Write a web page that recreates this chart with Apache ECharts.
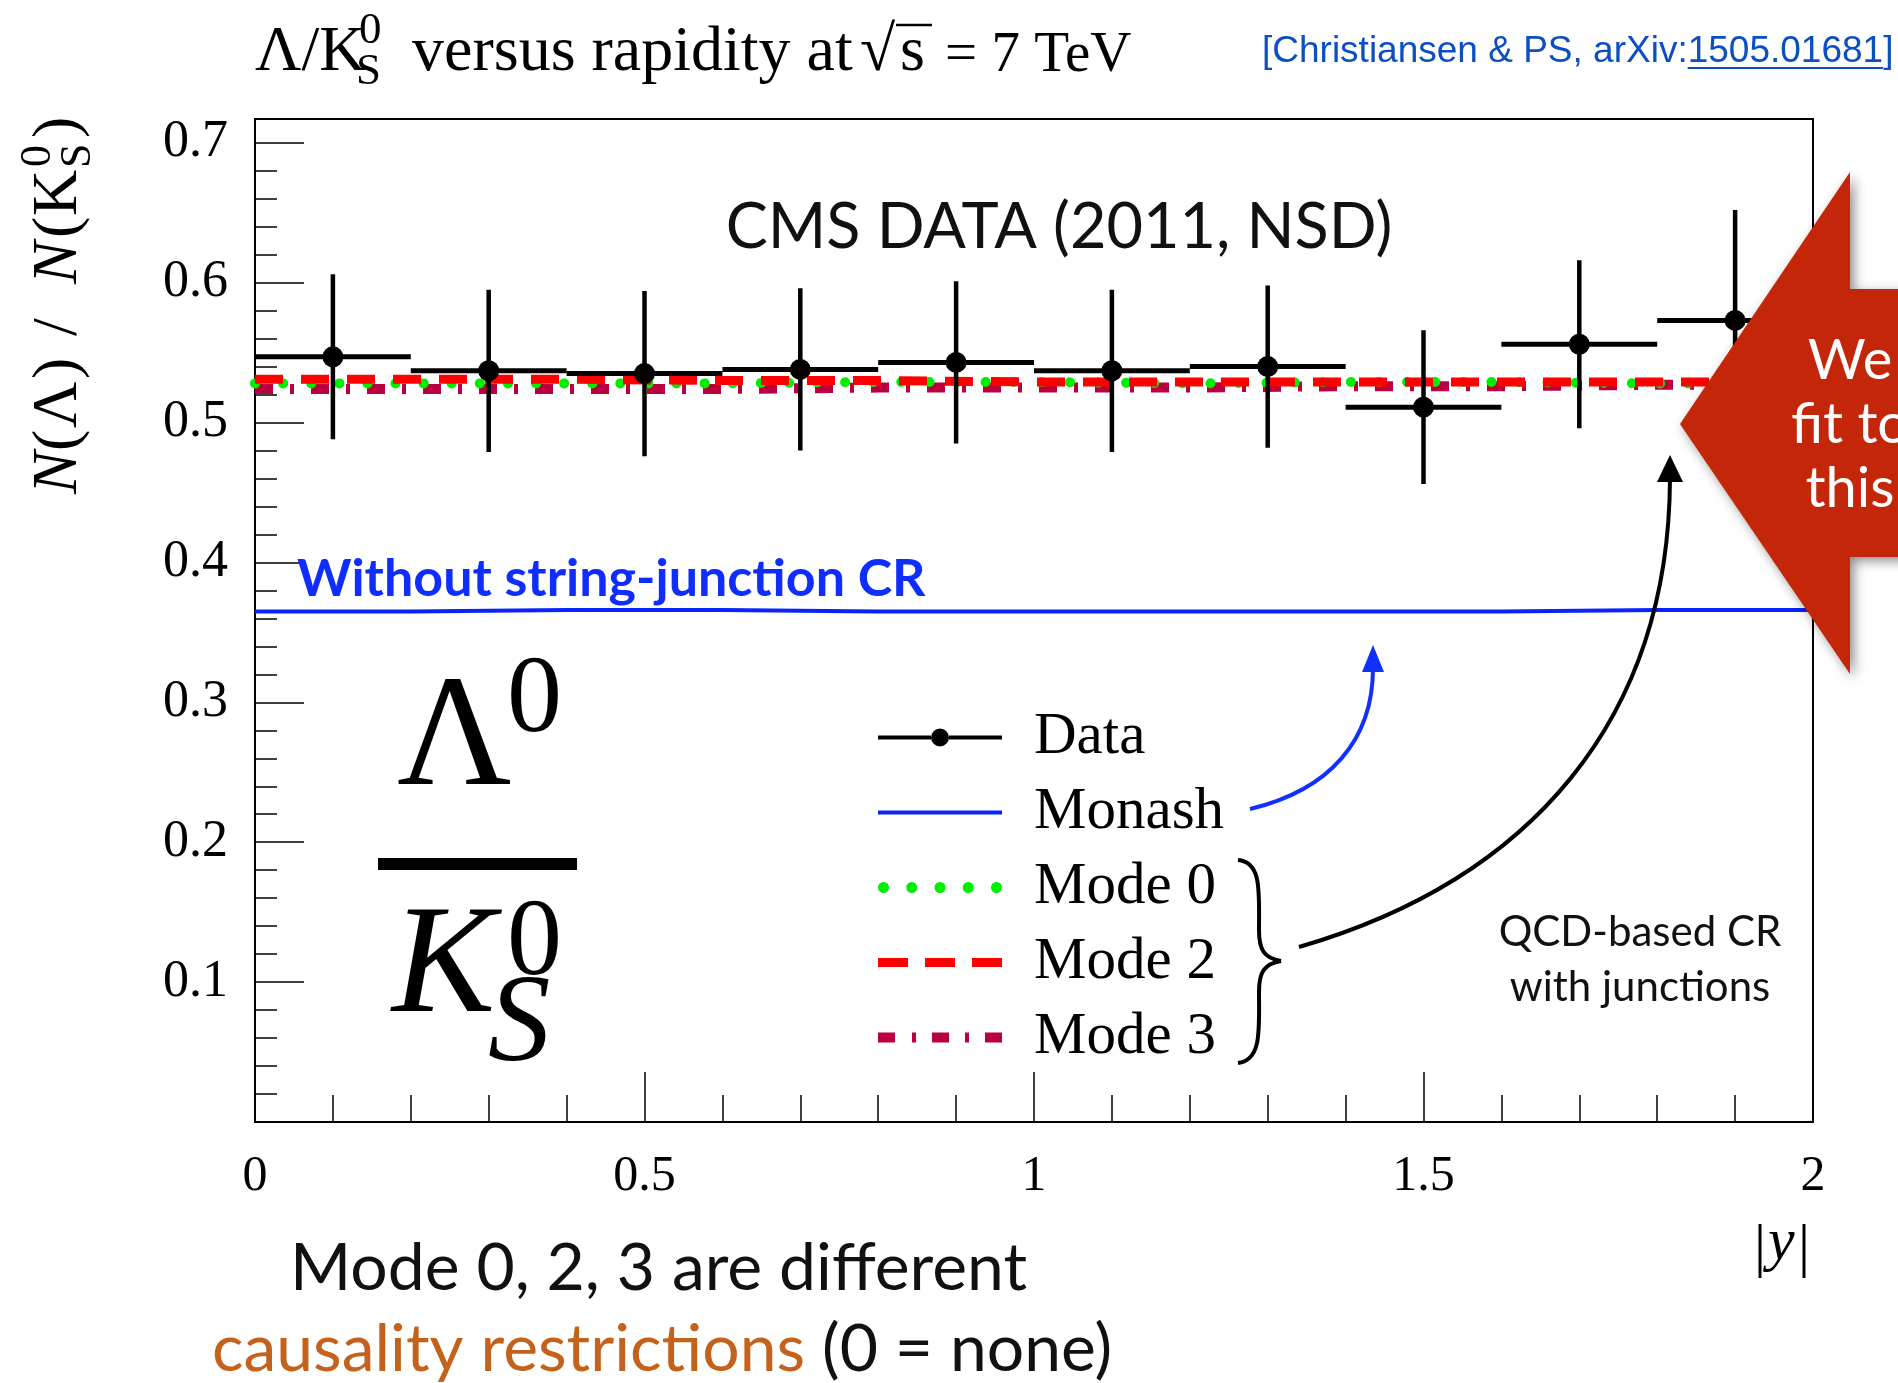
<!DOCTYPE html>
<html><head><meta charset="utf-8">
<script src="https://cdn.jsdelivr.net/npm/echarts@6/dist/echarts.min.js"></script>
<style>html,body{margin:0;padding:0;background:#fff}#c{width:1898px;height:1383px}</style>
</head><body><div id="c"></div>
<script>
// ---------------- data ----------------
const binEdges   = [0, 0.2, 0.4, 0.6, 0.8, 1.0, 1.2, 1.4, 1.6, 1.8, 2.0];
const dataValues = [0.547, 0.537, 0.535, 0.538, 0.543, 0.537, 0.540, 0.511, 0.556, 0.573];
const dataErrors = [0.059, 0.058, 0.059, 0.058, 0.058, 0.058, 0.058, 0.055, 0.060, 0.079];
const monash = [0.365, 0.366, 0.366, 0.365, 0.365, 0.365, 0.365, 0.365, 0.366, 0.366];
const mode0  = [0.528, 0.528, 0.528, 0.529, 0.529, 0.528, 0.529, 0.529, 0.528, 0.528];
const mode2  = [0.531, 0.531, 0.530, 0.530, 0.529, 0.529, 0.529, 0.529, 0.529, 0.529];
const mode3  = [0.524, 0.524, 0.524, 0.525, 0.525, 0.525, 0.526, 0.526, 0.527, 0.527];
const xTickValues = [0, 0.5, 1, 1.5, 2];
const xTickLabels = ['0', '0.5', '1', '1.5', '2'];
const yTickValues = [0.1, 0.2, 0.3, 0.4, 0.5, 0.6, 0.7];
const yTickLabels = ['0.1', '0.2', '0.3', '0.4', '0.5', '0.6', '0.7'];
const legendNames = ['Data', 'Monash', 'Mode 0', 'Mode 2', 'Mode 3'];

// ---------------- styles ----------------
const SERIF = 'Liberation Serif';
const SANS = 'Lato';
const BLUE = '#0a22ff', GREEN = '#00ee00', RED = '#ff0000', CRIMSON = '#bb0040', ARROWRED = '#c4260a';

const mctx = document.createElement('canvas').getContext('2d');
function tw(text, font) { mctx.font = font; return mctx.measureText(text).width; }

function stepData(vals) { return binEdges.map((e, i) => [e, vals[Math.min(i, vals.length - 1)]]); }
function findLabel(v, vals, labels) {
  for (let i = 0; i < vals.length; i++) if (Math.abs(vals[i] - v) < 1e-6) return labels[i];
  return '';
}

function T(text, x, y, size, o) {
  o = o || {};
  const st = { text: text, fontFamily: o.fam || SERIF, fontSize: size, fontStyle: o.it ? 'italic' : 'normal',
      fontWeight: o.bold ? 'bold' : 'normal', fill: o.c || '#000', align: o.align || 'left', verticalAlign: 'middle' };
  if (o.rich) st.rich = o.rich;
  return { type: 'text', x: x, y: y, z: o.z || 50, style: st };
}
function B(text, x, base, size, o) { return T(text, x, base - 0.32 * size, size, o); }
function curve(x1, y1, c1x, c1y, c2x, c2y, x2, y2, color, w, z) {
  return { type: 'bezierCurve', z: z || 50, shape: { x1: x1, y1: y1, cpx1: c1x, cpy1: c1y, cpx2: c2x, cpy2: c2y, x2: x2, y2: y2 },
    style: { stroke: color, lineWidth: w, fill: null } };
}

// ---------------- annotations ----------------
const g = [];
// title
const TB = 74;
g.push(B('Λ/K', 255, TB, 64));
g.push(B('0', 359, TB - 28, 45));
g.push(B('S', 356, TB + 13, 45));
g.push(B('versus rapidity at', 412, TB, 64));
g.push(B('√', 860, TB, 64));
g.push(B('s', 900, TB, 64));
g.push({ type: 'line', z: 50, shape: { x1: 896, y1: 25, x2: 932, y2: 25 }, style: { stroke: '#000', lineWidth: 2.5 } });
g.push(B('= 7 TeV', 945, TB, 57));
// citation
const citeFont = '37px "Liberation Sans"';
const citePre = '[Christiansen & PS, arXiv:', citeNum = '1505.01681';
const citeX = 1262, citeY = 52;
g.push(T(citePre + citeNum + ']', citeX, citeY, 37, { fam: 'Liberation Sans', c: '#0b4fc2' }));
const ux0 = citeX + tw(citePre, citeFont), ux1 = ux0 + tw(citeNum, citeFont);
g.push({ type: 'line', z: 50, shape: { x1: ux0, y1: citeY + 16, x2: ux1, y2: citeY + 16 }, style: { stroke: '#0b4fc2', lineWidth: 2 } });
// y axis title (rotated)
const yt = [];
const YS = 64;
yt.push(B('N', 0, 0, YS, { it: true }));
yt.push(B('(', 43, 0, YS));
yt.push(B('Λ', 66, 0, YS));
yt.push(B(')', 115, 0, YS));
yt.push(B('/', 158, 0, YS));
yt.push(B('N', 210, 0, YS, { it: true }));
yt.push(B('(', 256, 0, YS));
yt.push(B('K', 278, 0, YS));
yt.push(B('0', 327, -27, 44));
yt.push(B('S', 326, 13, 44));
yt.push(B(')', 356, 0, YS));
g.push({ type: 'group', x: 80, y: 494, rotation: Math.PI / 2, z: 50, children: yt });
// CMS label
g.push(T('CMS DATA (2011, NSD)', 1059, 228, 63, { fam: SANS, align: 'center', c: '#111' }));
// Monash label
g.push(T('Without string-junction CR', 297, 579, 52, { fam: SANS, bold: true, c: '#0f2dff' }));
// big fraction
g.push(B('Λ', 397, 793, 158));
g.push(B('0', 507, 737, 110));
g.push({ type: 'rect', z: 50, shape: { x: 378, y: 858, width: 199, height: 12 }, style: { fill: '#000' } });
g.push(B('K', 392, 1020, 155, { it: true }));
g.push(B('0', 507, 980, 110));
g.push(B('S', 488, 1067, 125, { it: true }));
// brace
g.push(curve(1238, 860, 1262, 862, 1259, 892, 1259, 930, '#000', 4));
g.push(curve(1259, 930, 1259, 950, 1264, 958, 1281, 961, '#000', 4));
g.push(curve(1281, 961, 1264, 964, 1259, 972, 1259, 992, '#000', 4));
g.push(curve(1259, 992, 1259, 1030, 1262, 1060, 1238, 1063, '#000', 4));
// black arrow
g.push(curve(1299, 947, 1530, 880, 1669, 720, 1670, 478, '#000', 4));
g.push({ type: 'polygon', z: 50, shape: { points: [[1670, 455], [1657, 482], [1683, 482]] }, style: { fill: '#000' } });
// blue arrow
g.push(curve(1250, 809, 1330, 790, 1373, 740, 1373, 668, '#1030ff', 4));
g.push({ type: 'polygon', z: 50, shape: { points: [[1373, 645], [1362, 672], [1384, 672]] }, style: { fill: '#1030ff' } });
// QCD note
g.push(T('QCD-based CR', 1640, 932, 42, { fam: SANS, align: 'center', c: '#111' }));
g.push(T('with junctions', 1640, 987, 42, { fam: SANS, align: 'center', c: '#111' }));
// red arrow
g.push({ type: 'polygon', z: 100, shape: { points: [[1680, 424], [1850, 172], [1850, 289], [1910, 289], [1910, 557], [1850, 557], [1850, 674]] },
  style: { fill: ARROWRED, shadowBlur: 12, shadowColor: 'rgba(0,0,0,0.45)', shadowOffsetX: 4, shadowOffsetY: 4 } });
g.push(T('We', 1850, 361, 56, { fam: SANS, align: 'center', c: '#fff', z: 101 }));
g.push(T('fit to', 1850, 425, 56, { fam: SANS, align: 'center', c: '#fff', z: 101 }));
g.push(T('this', 1850, 489, 56, { fam: SANS, align: 'center', c: '#fff', z: 101 }));
// x axis name |y|
g.push(B('|', 1754, 1268, 60));
g.push(B('y', 1768, 1262, 60, { it: true }));
g.push(B('|', 1798, 1268, 60));
// bottom notes
g.push(T('Mode 0, 2, 3 are different', 290, 1269, 66, { fam: SANS, c: '#111' }));
g.push(T('{o|causality restrictions} (0 = none)', 212, 1350, 66, { fam: SANS, c: '#111',
  rich: { o: { fill: '#c4621c', fontFamily: SANS, fontSize: 66 } } }));

// ---------------- chart ----------------
const axisCommon = { axisLine: { show: true, onZero: false, lineStyle: { color: '#000', width: 2 } }, splitLine: { show: false } };
const legendIcons = {
  'Data': 'path://M0,7H53V11H0Z M71,7H124V11H71Z M53,9A9,9 0 1,1 71,9A9,9 0 1,1 53,9Z',
  'Monash': 'path://M0,0H124V4H0Z',
  'Mode 0': 'path://M0,5.5A5.5,5.5 0 1,1 11,5.5A5.5,5.5 0 1,1 0,5.5Z M28.25,5.5A5.5,5.5 0 1,1 39.25,5.5A5.5,5.5 0 1,1 28.25,5.5Z M56.5,5.5A5.5,5.5 0 1,1 67.5,5.5A5.5,5.5 0 1,1 56.5,5.5Z M84.75,5.5A5.5,5.5 0 1,1 95.75,5.5A5.5,5.5 0 1,1 84.75,5.5Z M113,5.5A5.5,5.5 0 1,1 124,5.5A5.5,5.5 0 1,1 113,5.5Z',
  'Mode 2': 'path://M0,0H30V9H0Z M47,0H77V9H47Z M94,0H124V9H94Z',
  'Mode 3': 'path://M0,0H17V10H0Z M34,0H38V10H34Z M54,0H71V10H54Z M87,0H91V10H87Z M107,0H124V10H107Z'
};
const legendColors = { 'Data': '#000', 'Monash': BLUE, 'Mode 0': GREEN, 'Mode 2': RED, 'Mode 3': CRIMSON };

const option = {
  animation: false,
  backgroundColor: '#fff',
  grid: { left: 255, right: 85, top: 119, bottom: 261, show: true, borderColor: '#000', borderWidth: 2,
    backgroundColor: 'transparent', containLabel: false, outerBoundsMode: 'none' },
  xAxis: [
    Object.assign({ type: 'value', min: 0, max: 2, interval: 0.5, position: 'bottom',
      axisTick: { show: true, inside: true, length: 50, lineStyle: { color: '#000', width: 1.5 } },
      axisLabel: { show: true, margin: 30, fontFamily: SERIF, fontSize: 50, color: '#000', hideOverlap: false,
        showMinLabel: true, showMaxLabel: true, formatter: v => findLabel(v, xTickValues, xTickLabels) } }, axisCommon),
    { type: 'value', min: 0, max: 2, interval: 0.1, position: 'bottom', axisLine: { show: false, onZero: false },
      axisTick: { show: true, inside: true, length: 27, lineStyle: { color: '#000', width: 1.5 } },
      axisLabel: { show: false }, splitLine: { show: false } }
  ],
  yAxis: [
    Object.assign({ type: 'value', min: 0, max: 0.717, interval: 0.1, position: 'left',
      axisTick: { show: true, inside: true, length: 49, lineStyle: { color: '#000', width: 1.5 } },
      axisLabel: { show: true, margin: 27, fontFamily: SERIF, fontSize: 52, color: '#000', hideOverlap: false,
        formatter: v => findLabel(v, yTickValues, yTickLabels) } }, axisCommon),
    { type: 'value', min: 0, max: 0.717, interval: 0.02, position: 'left', axisLine: { show: false, onZero: false },
      axisTick: { show: true, inside: true, length: 22, lineStyle: { color: '#000', width: 1.5 } },
      axisLabel: { show: false }, splitLine: { show: false } }
  ],
  legend: {
    orient: 'vertical', left: 878, top: 708, itemWidth: 124, itemHeight: 18, itemGap: 16, padding: 0,
    selectedMode: false,
    itemStyle: { borderWidth: 0 },
    textStyle: { fontFamily: SERIF, fontSize: 59, color: '#000', lineHeight: 59, padding: [0, 0, 0, 27] },
    data: legendNames.map(n => ({ name: n, icon: legendIcons[n], itemStyle: { color: legendColors[n], borderWidth: 0 } }))
  },
  series: [
    { type: 'line', name: 'Monash', step: 'end', data: stepData(monash), symbol: 'none', z: 3,
      lineStyle: { color: BLUE, width: 4 }, itemStyle: { color: BLUE } },
    { type: 'line', name: 'Mode 3', step: 'end', data: stepData(mode3), symbol: 'none', z: 3,
      lineStyle: { color: CRIMSON, width: 10, type: [18, 17, 4, 17] }, itemStyle: { color: CRIMSON } },
    { type: 'line', name: 'Mode 0', step: 'end', data: stepData(mode0), symbol: 'none', z: 3,
      lineStyle: { color: GREEN, width: 10, type: [0.1, 28], cap: 'round' }, itemStyle: { color: GREEN } },
    { type: 'line', name: 'Mode 2', step: 'end', data: stepData(mode2), symbol: 'none', z: 3,
      lineStyle: { color: RED, width: 9, type: [28, 18] }, itemStyle: { color: RED } },
    { type: 'custom', name: 'Data', z: 5, itemStyle: { color: '#000' },
      data: dataValues.map((v, i) => [(binEdges[i] + binEdges[i + 1]) / 2, v, dataErrors[i], binEdges[i], binEdges[i + 1]]),
      encode: { x: 0, y: 1 },
      renderItem: function (params, api) {
        const xc = api.value(0), y = api.value(1), e = api.value(2), x0 = api.value(3), x1 = api.value(4);
        const pL = api.coord([x0, y]), pR = api.coord([x1, y]);
        const pT = api.coord([xc, y + e]), pB = api.coord([xc, y - e]), pC = api.coord([xc, y]);
        return { type: 'group', children: [
          { type: 'line', shape: { x1: pL[0], y1: pL[1], x2: pR[0], y2: pR[1] }, style: { stroke: '#000', lineWidth: 5 } },
          { type: 'line', shape: { x1: pT[0], y1: pT[1], x2: pB[0], y2: pB[1] }, style: { stroke: '#000', lineWidth: 4.5 } },
          { type: 'circle', shape: { cx: pC[0], cy: pC[1], r: 10.5 }, style: { fill: '#000' } }
        ] };
      } }
  ],
  graphic: { elements: g }
};
const chart = echarts.init(document.getElementById('c'), null, { renderer: 'canvas' });
chart.setOption(option);
</script></body></html>
